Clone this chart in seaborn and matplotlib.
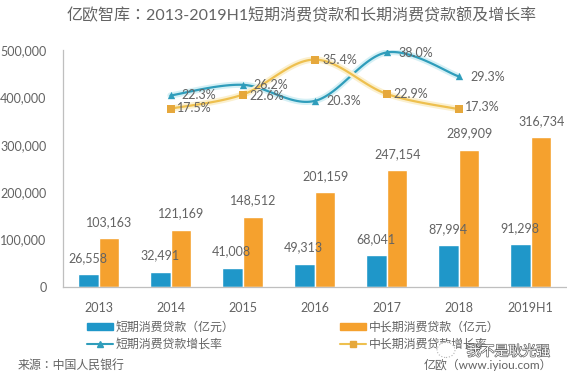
# -*- coding: utf-8 -*-
import numpy as np
import pandas as pd
import seaborn as sns
import matplotlib.pyplot as plt
import matplotlib.patheffects as pe
from matplotlib.lines import Line2D
from matplotlib.patches import Patch, Ellipse

years = ['2013', '2014', '2015', '2016', '2017', '2018', '2019H1']
short_loans = [26558, 32491, 41008, 49313, 68041, 87994, 91298]
long_loans = [103163, 121169, 148512, 201159, 247154, 289909, 316734]
rate_years = [1, 2, 3, 4, 5]
short_rate = [22.3, 26.2, 20.3, 38.0, 29.3]
long_rate = [17.5, 22.6, 35.4, 22.9, 17.3]

BLUE = '#1f97c9'
ORANGE = '#f5a12e'
LBLUE = '#2f9dbb'
LYEL = '#eec04f'
MARK = '#e6a83c'
GRAY = '#636363'


def smooth(xs, ys, n=30):
    # same kind of curve as a smoothed line in a spreadsheet (catmull-rom)
    xs = np.array(xs, dtype=float)
    ys = np.array(ys, dtype=float)
    xs2 = np.r_[xs[0], xs, xs[-1]]
    ys2 = np.r_[ys[0], ys, ys[-1]]
    xo, yo = [], []
    for i in range(1, len(xs2) - 2):
        t = np.linspace(0, 1, n)
        for src, out in ((xs2, xo), (ys2, yo)):
            p0, p1, p2, p3 = src[i - 1], src[i], src[i + 1], src[i + 2]
            c1 = p1 + (p2 - p0) / 6
            c2 = p2 - (p3 - p1) / 6
            out.extend((1 - t)**3 * p1 + 3 * (1 - t)**2 * t * c1 + 3 * (1 - t) * t**2 * c2 + t**3 * p2)
    return pd.DataFrame({'x': xo, 'y': yo})


sns.set_theme(style='white')
plt.rcParams['font.family'] = ['Lato', 'Noto Sans CJK TC', 'DejaVu Sans']
plt.rcParams['axes.unicode_minus'] = False

W, H = 567, 376
fig = plt.figure(figsize=(W / 100, H / 100), dpi=100)
ax = fig.add_axes([62.5 / W, 1 - 287 / H, 504 / W, (287 - 50) / H])

bars = pd.DataFrame({
    'year': years * 2,
    'value': short_loans + long_loans,
    'kind': ['short'] * len(years) + ['long'] * len(years),
})
sns.barplot(data=bars, x='year', y='value', hue='kind', palette=[BLUE, ORANGE],
            width=0.57, gap=0, legend=False, ax=ax, saturation=1)
ax.set_xlim(-0.5, 6.5)
ax.set_ylim(0, 500000)
ax.set_xlabel('')
ax.set_ylabel('')
ax.set_yticks([0, 100000, 200000, 300000, 400000, 500000])
ax.set_yticklabels(['0', '100,000', '200,000', '300,000', '400,000', '500,000'])
ax.tick_params(axis='both', length=0, labelsize=9, labelcolor=GRAY)
ax.tick_params(axis='y', pad=11.5)
ax.tick_params(axis='x', pad=10.5)
for s in ['top', 'right']:
    ax.spines[s].set_visible(False)
for s in ['left', 'bottom']:
    ax.spines[s].set_color('#bfbfbf')
    ax.spines[s].set_linewidth(0.9)

# value labels over the bars
for i in range(len(years)):
    ax.annotate(f'{short_loans[i]:,}', (i - 0.15, short_loans[i]), xytext=(0, 11.5),
                textcoords='offset points', ha='center', va='center', fontsize=9, color=GRAY)
    ax.annotate(f'{long_loans[i]:,}', (i + 0.15, long_loans[i]), xytext=(0, 11.5),
                textcoords='offset points', ha='center', va='center', fontsize=9, color=GRAY)

# growth rates, second axis is hidden
ax2 = ax.twinx()
ax2.set_ylim((156.6 - 287) / 2.74, (156.6 - 50) / 2.74)
ax2.axis('off')
glow = {LBLUE: '#d5f0f5', LYEL: '#fbf0cf'}
series = [(short_rate, LBLUE, LBLUE, '^'), (long_rate, LYEL, MARK, 's')]
for rate, col, mcol, mk in series:
    line = smooth(rate_years, rate)
    sns.lineplot(data=line, x='x', y='y', color=col, linewidth=1.6, estimator=None,
                 sort=False, ax=ax2, legend=False,
                 path_effects=[pe.withStroke(linewidth=4.5, foreground=glow[col])])
    sns.scatterplot(x=rate_years, y=rate, color=mcol, marker=mk, s=28, linewidth=0,
                    ax=ax2, legend=False, zorder=5)
ax2.set_xlim(-0.5, 6.5)

short_off = [(8, 0), (8, 0), (8.5, 0), (8.5, -0.5), (8.5, -0.5)]
long_off = [(5, 0.5), (5, -1), (6, 0), (5, 0), (4.5, 1.5)]
for i, x in enumerate(rate_years):
    ax2.annotate(f'{short_rate[i]:.1f}%', (x, short_rate[i]), xytext=short_off[i],
                 textcoords='offset points', ha='left', va='center', fontsize=9, color=GRAY)
    ax2.annotate(f'{long_rate[i]:.1f}%', (x, long_rate[i]), xytext=long_off[i],
                 textcoords='offset points', ha='left', va='center', fontsize=9, color=GRAY)

handles = [
    Patch(color=BLUE),
    Line2D([], [], color=LBLUE, marker='^', markersize=4.5),
    Patch(color=ORANGE),
    Line2D([], [], color=LYEL, marker='s', markersize=4, markerfacecolor=MARK, markeredgecolor=MARK),
]
labels = ['短期消费贷款（亿元）', '短期消费贷款增长率', '中长期消费贷款（亿元）', '中长期消费贷款增长率']
fig.legend(handles, labels, ncol=2, loc='upper left', bbox_to_anchor=(87 / W, 1 - 321 / H),
           frameon=False, fontsize=8.6, labelcolor=GRAY, handlelength=2.2, handleheight=0.5,
           handletextpad=0.2, columnspacing=8.85, labelspacing=0.46, borderpad=0, borderaxespad=0)

fig.text(302 / W, 1 - 15 / H, '亿欧智库：2013-2019H1短期消费贷款和长期消费贷款额及增长率',
         ha='center', va='center', fontsize=11.5, color=GRAY)
fig.text(18 / W, 1 - 365 / H, '来源：中国人民银行', ha='left', va='center', fontsize=8.6, color=GRAY)
fig.text(552 / W, 1 - 365 / H, '亿欧（www.iyiou.com）', ha='right', va='center', fontsize=8.6, color=GRAY)

# watermark sits on top of the legend
fig.add_artist(Ellipse((446 / W, 1 - 350 / H), 18 / W, 15 / H, transform=fig.transFigure,
                       facecolor='white', edgecolor='#b5b5b5', linestyle=':', linewidth=0.8, zorder=10))
fig.text(550 / W, 1 - 351 / H, '我不是耿光强', ha='right', va='center', fontsize=10,
         color='white', zorder=11, path_effects=[pe.withStroke(linewidth=0.9, foreground='#555555')])

fig.savefig('out.png', dpi=100)
